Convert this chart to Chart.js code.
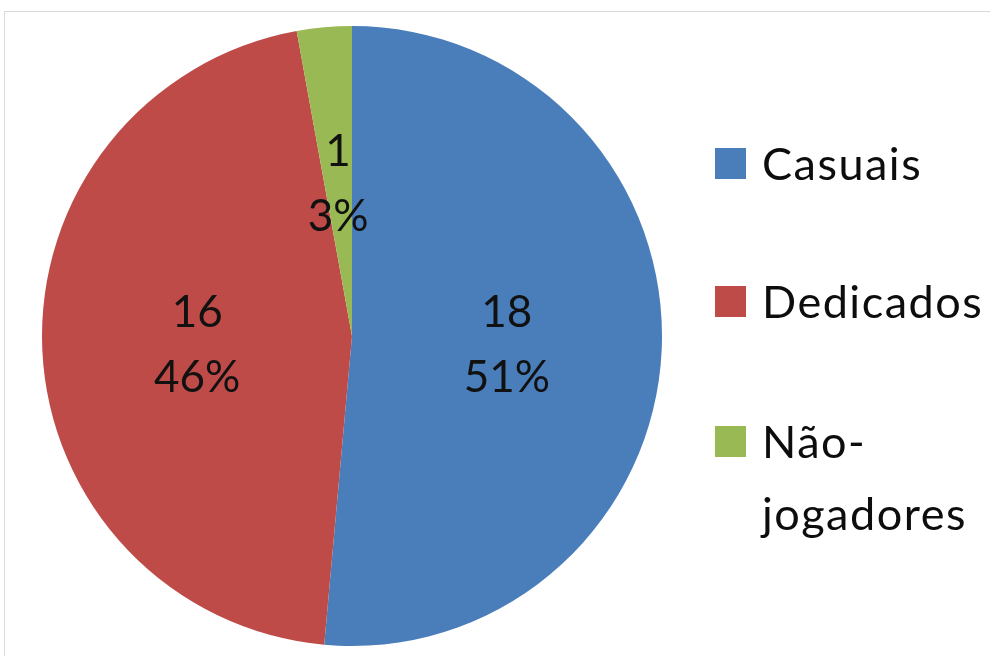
<!DOCTYPE html>
<html>
<head>
<meta charset="utf-8">
<script src="https://cdn.jsdelivr.net/npm/chart.js@4/dist/chart.umd.min.js"></script>
<style>
    html, body { margin: 0; padding: 0; background: #fff; }
    #wrap { position: relative; width: 990px; height: 656px; }
    #frame {
        position: absolute; left: 4px; top: 11px; right: 0; bottom: 0;
        border-top: 1px solid #d9d9d9; border-left: 1px solid #d9d9d9;
    }
    #pieChart { position: absolute; left: 0; top: 0; }
</style>
</head>
<body>
<div id="wrap">
    <div id="frame"></div>
    <canvas id="pieChart" width="990" height="656"></canvas>
</div>
<script>
const categorias = ["Casuais", "Dedicados", "Não-jogadores"];
const legendaLinhas = [["Casuais"], ["Dedicados"], ["Não-", "jogadores"]];
const valores = [18, 16, 1];
const cores = ["#4A7EBB", "#BE4B48", "#98B954"];

const fonte = "44px Lato, 'Open Sans', sans-serif";
const fonteLegenda = "45px Lato, 'Open Sans', sans-serif";

// rótulos: valor e percentual no meio de cada fatia
const rotulosPlugin = {
    id: "rotulos",
    afterDatasetsDraw(chart) {
        const ctx = chart.ctx;
        const total = valores.reduce((a, b) => a + b, 0);
        const meta = chart.getDatasetMeta(0);
        ctx.save();
        ctx.font = fonte;
        ctx.fillStyle = "#111";
        ctx.textAlign = "center";
        ctx.textBaseline = "alphabetic";
        meta.data.forEach((arc, i) => {
            const p = arc.getCenterPoint();
            const pct = Math.round(valores[i] / total * 100) + "%";
            ctx.fillText(String(valores[i]), p.x, p.y - 16);
            ctx.fillText(pct, p.x, p.y + 49);
        });
        ctx.restore();
    }
};

// legenda à direita, desenhada à mão (quebra de linha em "Não-jogadores")
const legendaPlugin = {
    id: "legendaDireita",
    afterDraw(chart) {
        const ctx = chart.ctx;
        const baseY = [180, 318, 458];
        ctx.save();
        ctx.font = fonteLegenda;
        ctx.letterSpacing = "1.5px";
        ctx.textBaseline = "alphabetic";
        ctx.textAlign = "left";
        categorias.forEach((c, i) => {
            ctx.fillStyle = cores[i];
            ctx.fillRect(715, baseY[i] - 32, 31, 31);
            ctx.fillStyle = "#0d0d0d";
            legendaLinhas[i].forEach((linha, j) => {
                ctx.fillText(linha, 762, baseY[i] + j * 72);
            });
        });
        ctx.restore();
    }
};

new Chart(document.getElementById("pieChart").getContext("2d"), {
    type: "pie",
    data: {
        labels: categorias,
        datasets: [{
            data: valores,
            backgroundColor: cores,
            borderWidth: 0
        }]
    },
    options: {
        responsive: false,
        animation: false,
        layout: { padding: { top: 25, bottom: 9, left: 42, right: 328 } },
        plugins: {
            legend: { display: false },
            tooltip: { enabled: false }
        }
    },
    plugins: [rotulosPlugin, legendaPlugin]
});
</script>
</body>
</html>
